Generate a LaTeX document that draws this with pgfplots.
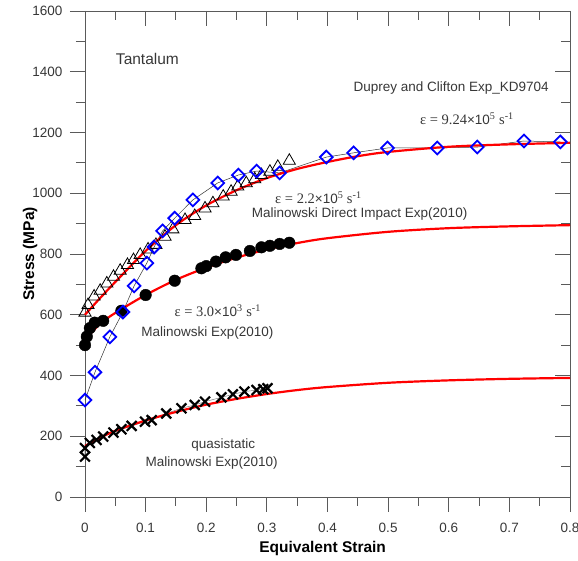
\documentclass[border=0pt]{standalone}
\usepackage{pgfplots}
\pgfplotsset{compat=1.18}
\usepackage{fontspec}
\setmainfont{Liberation Sans}
\newfontfamily\tnr{Liberation Serif}
\definecolor{axgray}{RGB}{90,90,90}
\definecolor{txtgray}{RGB}{55,55,55}
\definecolor{dblue}{RGB}{0,0,255}
\definecolor{fitred}{RGB}{255,0,0}
\newcommand{\rate}[2]{{\tnr\fontsize{14.5}{15}\selectfont\textcolor{txtgray}{ε = #1}}\textcolor{txtgray}{×10}{\tnr\fontsize{14.5}{15}\selectfont\textcolor{txtgray}{\textsuperscript{#2} s\textsuperscript{-1}}}}

\begin{document}
\begin{tikzpicture}
\pgfplotsset{
  common/.style={
    scale only axis, width=485pt, height=486pt,
    xmin=0, xmax=0.8, ymin=0, ymax=1600,
    xtick={0,0.1,...,0.8}, ytick={0,200,...,1600},
    minor x tick num=1, minor y tick num=1,
    major tick length=15pt, minor tick length=9pt,
    axis line style={axgray, line width=0.9pt},
    every tick/.style={axgray, line width=0.9pt},
    clip=false,
  }
}
% ticks inside on top and right
\begin{axis}[common,
    axis x line*=top, axis y line*=right,
    tick align=inside, xticklabels={}, yticklabels={}]
\end{axis}

\begin{axis}[common,
    axis x line*=bottom, axis y line*=left,
    tick align=outside,
    x axis line style={-}, y axis line style={-},
    tick label style={font=\fontsize{13.5}{14}\selectfont, text=txtgray},
    /pgf/number format/assume math mode=true,
    xticklabel style={yshift=-8pt, /pgf/number format/.cd, fixed, precision=1, zerofill=false},
    yticklabel style={xshift=-4pt, /pgf/number format/.cd, fixed, int detect, 1000 sep={}},
    xlabel={\bfseries Equivalent Strain},
    ylabel={\bfseries Stress (MPa)},
    label style={font=\fontsize{15.5}{16}\selectfont\bfseries},
    xlabel style={at={(axis description cs:0.49,0)}, anchor=center, yshift=-51pt},
    ylabel style={at={(axis description cs:0,0.5)}, anchor=center, yshift=55pt},
]

% quasistatic (crosses) with thin gray line
\addplot[gray, line width=0.5pt, mark=x, mark size=7pt,
  mark options={black, line width=2.2pt}] coordinates {
(0,133) (0,161) (0.008,178) (0.019,188) (0.030,199) (0.047,212) (0.060,223)
(0.077,234) (0.099,248) (0.110,253) (0.134,275) (0.159,292) (0.181,303)
(0.198,314) (0.225,328) (0.244,338) (0.263,347) (0.283,352) (0.294,355) (0.301,358)
};

% 3.0e3 /s (filled circles)
\addplot[only marks, mark=*, mark size=5.8pt, black] coordinates {
(0,500) (0.003,528) (0.008,556) (0.016,574) (0.030,580) (0.060,613) (0.100,665)
(0.148,712) (0.192,753) (0.200,760) (0.216,775) (0.232,789) (0.249,797)
(0.272,810) (0.291,822) (0.305,827) (0.321,833) (0.337,837)
};

% 2.2e5 /s (open triangles)
\addplot[only marks, mark=triangle, mark size=7pt, black,
  mark options={line width=0.8pt, fill=none}] coordinates {
(0,607) (0.005,632) (0.015,660) (0.025,679) (0.036,703) (0.047,725) (0.058,745)
(0.070,764) (0.080,780) (0.091,797) (0.104,815) (0.117,830) (0.132,857)
(0.145,881) (0.165,912) (0.181,925) (0.198,950) (0.211,967) (0.228,989)
(0.241,1005) (0.252,1022) (0.266,1033) (0.280,1046) (0.291,1060) (0.305,1071)
(0.318,1087) (0.337,1107)
};

% Duprey and Clifton (blue diamonds) with thin line
\addplot[black!80, line width=0.5pt, mark=square, mark size=4.5pt,
  mark options={dblue, rotate=45, line width=1.8pt, fill=none}] coordinates {
(0,319) (0.0165,411) (0.041,527) (0.0625,609) (0.081,695) (0.102,770)
(0.114,823) (0.128,876) (0.148,918) (0.178,978) (0.219,1034) (0.253,1060)
(0.283,1073) (0.321,1067) (0.398,1119) (0.443,1133) (0.499,1149) (0.581,1149)
(0.647,1152) (0.724,1172) (0.784,1169)
};

% model curves (red)
\addplot[fitred, line width=2.2pt, smooth] coordinates {
(0,168) (0.025,195) (0.05,218) (0.1,252) (0.15,280) (0.2,304) (0.25,323)
(0.3,339) (0.35,352) (0.4,362) (0.5,376) (0.6,384) (0.7,389) (0.8,392)
};
\addplot[fitred, line width=2.2pt, smooth] coordinates {
(0,518) (0.025,570) (0.05,606) (0.1,665) (0.15,715) (0.2,755) (0.25,788)
(0.3,815) (0.35,836) (0.4,852) (0.5,873) (0.6,885) (0.7,891) (0.8,895)
};
\addplot[fitred, line width=2.2pt, smooth] coordinates {
(0,600) (0.025,655) (0.05,708) (0.1,810) (0.15,895) (0.2,960) (0.25,1010)
(0.3,1050) (0.35,1080) (0.4,1103) (0.45,1122) (0.5,1136) (0.6,1153)
(0.7,1161) (0.8,1166)
};

% annotations
\begin{scope}[every node/.style={text=txtgray, font=\fontsize{13.5}{14}\selectfont}]
\node[font=\fontsize{15.5}{16}\selectfont] at (axis cs:0.103,1442) {Tantalum};
\node at (axis cs:0.604,1346) {Duprey and Clifton Exp\_KD9704};
\node at (axis cs:0.630,1244) {\rate{9.24}{5}};
\node at (axis cs:0.385,985) {\rate{2.2}{5}};
\node at (axis cs:0.453,930) {Malinowski Direct Impact Exp(2010)};
\node at (axis cs:0.219,612) {\rate{3.0}{3}};
\node at (axis cs:0.202,540) {Malinowski Exp(2010)};
\node at (axis cs:0.228,171) {quasistatic};
\node at (axis cs:0.209,112) {Malinowski Exp(2010)};
\end{scope}
\end{axis}

\pgfresetboundingbox
\path (-85pt,-64pt) rectangle (493pt,497pt);
\end{tikzpicture}
\end{document}
